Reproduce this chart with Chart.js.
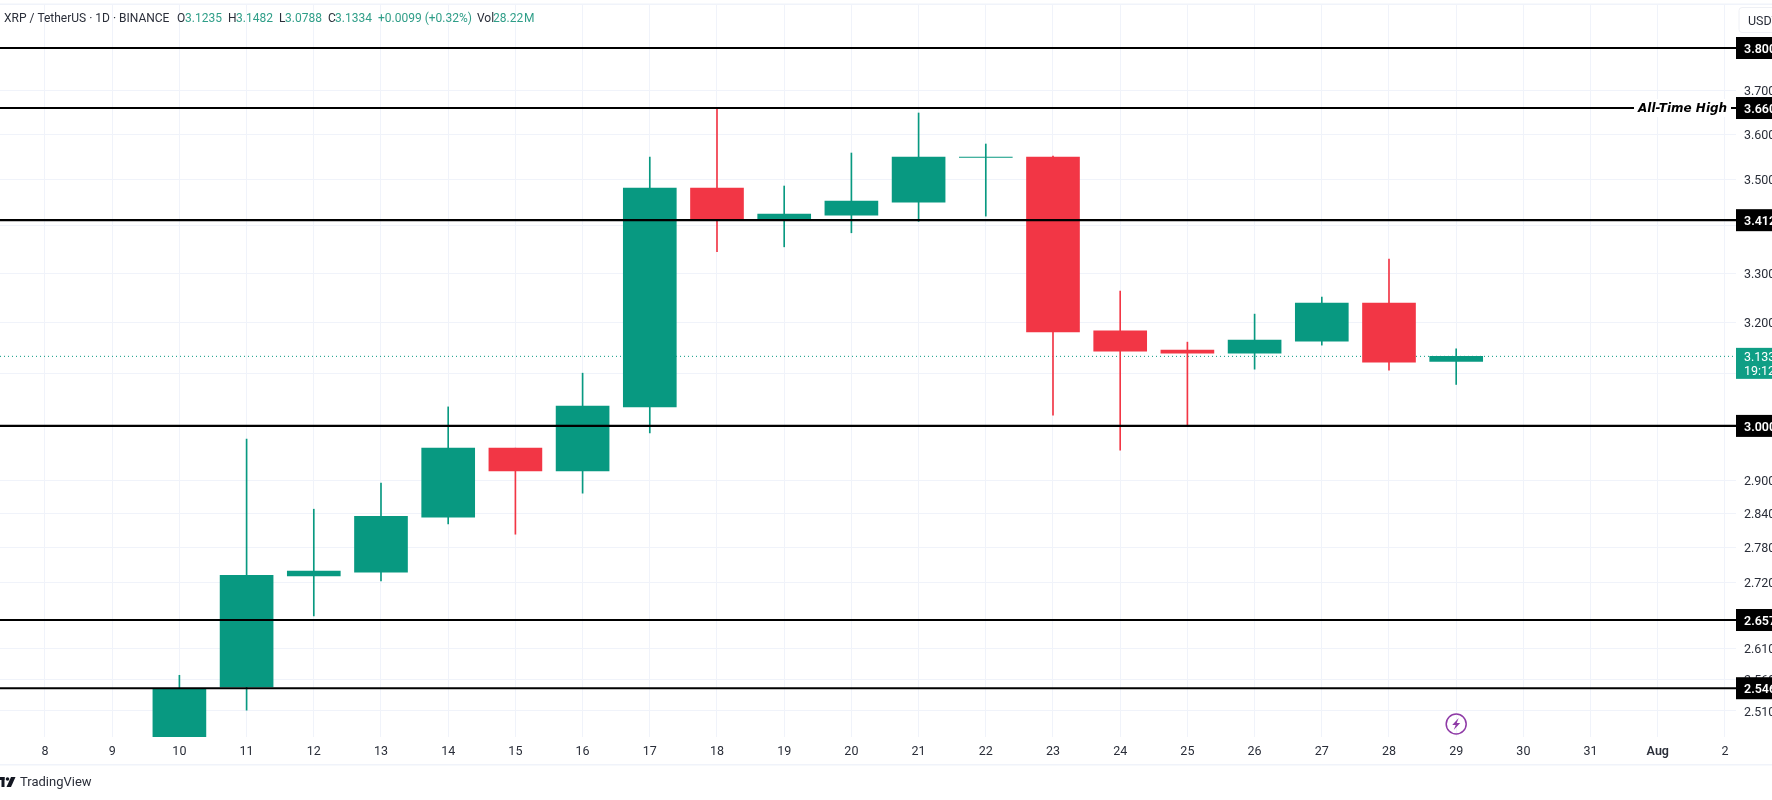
<!DOCTYPE html>
<html><head><meta charset="utf-8"><title>XRP / TetherUS</title>
<style>html,body{margin:0;padding:0;background:#fff;overflow:hidden}canvas{display:block}</style>
<script src="https://cdn.jsdelivr.net/npm/chart.js@4"></script></head>
<body><canvas id="c" width="1772" height="800" style="width:1772px;height:800px"></canvas>
<script>
const days   = [10,11,12,13,14,15,16,17,18,19,20,21,22,23,24,25,26,27,28,29];
const opens  = [2.4695,2.5480,2.7313,2.7376,2.8335,2.9585,2.9168,3.0359,3.4813,3.4138,3.4228,3.4507,3.5487,3.5495,3.1838,3.1457,3.1398,3.1634,3.2394,3.1235];
const highs  = [2.5667,2.9752,2.8477,2.8944,3.0359,2.9585,3.1006,3.5495,3.6600,3.4857,3.5584,3.6486,3.5785,3.5517,3.2640,3.1614,3.2173,3.2518,3.3300,3.1482];
const lows   = [2.4400,2.5111,2.6638,2.7228,2.8216,2.8035,2.8764,2.9870,3.3452,3.3556,3.3852,3.4095,3.4207,3.0203,2.9548,3.0014,3.1084,3.1555,3.1066,3.0788];
const closes = [2.5460,2.7325,2.7394,2.8352,2.9585,2.9168,3.0372,3.4813,3.4138,3.4250,3.4530,3.5495,3.5495,3.1818,3.1437,3.1398,3.1654,3.2394,3.1222,3.1334];
const levels = [3.8,3.66,3.412,3.0,2.657,2.546];
const priceTicks = [3.7,3.6,3.5,3.4,3.3,3.2,3.1,2.9,2.84,2.78,2.72,2.61,2.56,2.51];
const tickDays = [8,9,10,11,12,13,14,15,16,17,18,19,20,21,22,23,24,25,26,27,28,29,30,31,32,33];
const tickLabels = ['8','9','10','11','12','13','14','15','16','17','18','19','20','21','22','23','24','25','26','27','28','29','30','31','Aug','2'];
const lastClose = 3.1334;
const headerParts = [
  ['XRP / TetherUS · 1D · BINANCE',4,'d'],['O',177,'d'],['3.1235',185,'g'],['H',228,'d'],['3.1482',236,'g'],
  ['L',279,'d'],['3.0788',285,'g'],['C',328,'d'],['3.1334',335,'g'],['+0.0099 (+0.32%)',378,'g'],
  ['Vol',477,'d'],['28.22',493,'g'],['M',524,'g']
];
const UP='#089981', DOWN='#f23645', GRID='#f0f3fa', TEXT='#2a2e39';
const FONT='Roboto, "Open Sans", sans-serif';
const xMin=7.3304, xMax=33.1637;
const colorOf = days.map((d,i)=>closes[i]>=opens[i]?UP:DOWN);

const overlay = {
  id:'overlay',
  afterDraw(chart){
    const ctx=chart.ctx, y=chart.scales.y, x=chart.scales.x;
    ctx.save();
    ctx.fillStyle=GRID; ctx.fillRect(0,764,1772,1.5); ctx.fillRect(0,3.5,1772,1.5);
    ctx.font='12px '+FONT; ctx.textBaseline='middle'; ctx.textAlign='left';
    headerParts.forEach(p=>{ctx.fillStyle=p[2]==='g'?'#2f9e88':TEXT; ctx.fillText(p[0],p[1],18.5);});
    const ya=y.getPixelForValue(3.66);
    ctx.fillStyle='#fff'; ctx.fillRect(1634,ya-9,97,18);
    ctx.fillStyle='#000'; ctx.font='italic bold 12px "DejaVu Sans", sans-serif'; ctx.textAlign='left';
    ctx.fillText('All-Time High',1638,ya+1);
    const yp=y.getPixelForValue(lastClose);
    ctx.fillStyle='#0f9e85'; ctx.fillRect(1736,yp-8.5,36,31);
    ctx.fillStyle='#fff'; ctx.font='12.5px '+FONT;
    ctx.fillText(lastClose.toFixed(3),1744,yp+1.5); ctx.fillText('19:12',1744,yp+15.5);
    ctx.fillStyle='#fff'; ctx.strokeStyle='#eef0f5'; ctx.lineWidth=1;
    ctx.beginPath(); ctx.roundRect(1739,7.5,40,25,3); ctx.fill(); ctx.stroke();
    ctx.fillStyle=TEXT; ctx.font='12.5px '+FONT; ctx.fillText('USDT',1748,22);
    const bx=x.getPixelForValue(29), by=724;
    ctx.strokeStyle='#8e3aa6'; ctx.lineWidth=1.5; ctx.beginPath(); ctx.arc(bx,by,10,0,Math.PI*2); ctx.stroke();
    ctx.fillStyle='#8e3aa6'; ctx.beginPath();
    ctx.moveTo(bx+2.5,by-6); ctx.lineTo(bx-4,by+1); ctx.lineTo(bx-0.5,by+1); ctx.lineTo(bx-2.5,by+6);
    ctx.lineTo(bx+4,by-1); ctx.lineTo(bx+0.5,by-1); ctx.closePath(); ctx.fill();
    ctx.fillStyle='#131722';
    ctx.fillRect(0,777,4.5,3); ctx.fillRect(1.5,777,3,10);
    ctx.beginPath(); ctx.arc(7.5,779,1.8,0,Math.PI*2); ctx.fill();
    ctx.beginPath(); ctx.moveTo(11,777); ctx.lineTo(15.5,777); ctx.lineTo(11,787); ctx.lineTo(6.5,787); ctx.closePath(); ctx.fill();
    ctx.fillStyle=TEXT; ctx.font='13px '+FONT; ctx.fillText('TradingView',20,783);
    ctx.restore();
  }
};

const levelDatasets = levels.map(v=>({type:'line',data:[{x:xMin,y:v},{x:xMax,y:v}],borderColor:'#000',borderWidth:2.2,pointRadius:0,order:0}));

new Chart(document.getElementById('c'),{
  type:'bar',
  data:{datasets:[
    ...levelDatasets,
    {type:'bar',label:'body',data:days.map((d,i)=>({x:d,y:[opens[i],closes[i]]})),backgroundColor:colorOf,barThickness:53,grouped:false,order:1},
    {type:'bar',label:'wick',data:days.map((d,i)=>({x:d,y:[lows[i],highs[i]]})),backgroundColor:colorOf,barThickness:1,grouped:false,order:2},
    {type:'line',label:'last',data:[{x:xMin,y:lastClose},{x:xMax,y:lastClose}],borderColor:UP,borderWidth:1,borderDash:[1,3],pointRadius:0,order:3}
  ]},
  options:{
    responsive:false,animation:false,devicePixelRatio:1,
    layout:{padding:{top:5,left:0,right:0,bottom:0}},
    plugins:{legend:{display:false},tooltip:{enabled:false}},
    scales:{
      x:{type:'linear',min:xMin,max:xMax,offset:false,
        afterFit(s){s.height=63;s.paddingLeft=0;s.paddingRight=0;},
        afterBuildTicks(s){s.ticks=tickDays.map(v=>({value:v}));},
        grid:{color:GRID,drawTicks:false,offset:false},border:{display:false},
        ticks:{autoSkip:false,maxRotation:0,padding:7,color:TEXT,
          font:c=>({family:FONT,size:12.5,weight:c.tick&&c.tick.value===32?'600':'400'}),
          callback:(v,i)=>tickLabels[i]}},
      y:{type:'logarithmic',position:'right',min:2.4695,max:3.9036,
        afterFit(s){s.width=36;s.paddingTop=0;s.paddingBottom=0;},
        afterBuildTicks(s){s.ticks=[...priceTicks,...levels].map(v=>({value:v}));},
        grid:{color:c=>levels.includes(c.tick.value)?'rgba(0,0,0,0)':GRID,drawTicks:false},border:{display:false},
        ticks:{autoSkip:false,padding:8,crossAlign:'near',labelOffset:1.5,
          color:c=>levels.includes(c.tick.value)?'#fff':TEXT,
          font:c=>({family:FONT,size:12.5,weight:levels.includes(c.tick.value)?'600':'400'}),
          showLabelBackdrop:c=>levels.includes(c.tick.value),
          backdropColor:'#000',backdropPadding:{top:5,bottom:2,left:8,right:20},
          callback:v=>Number(v).toFixed(3)}}
    }
  },
  plugins:[overlay]
});
</script></body></html>
